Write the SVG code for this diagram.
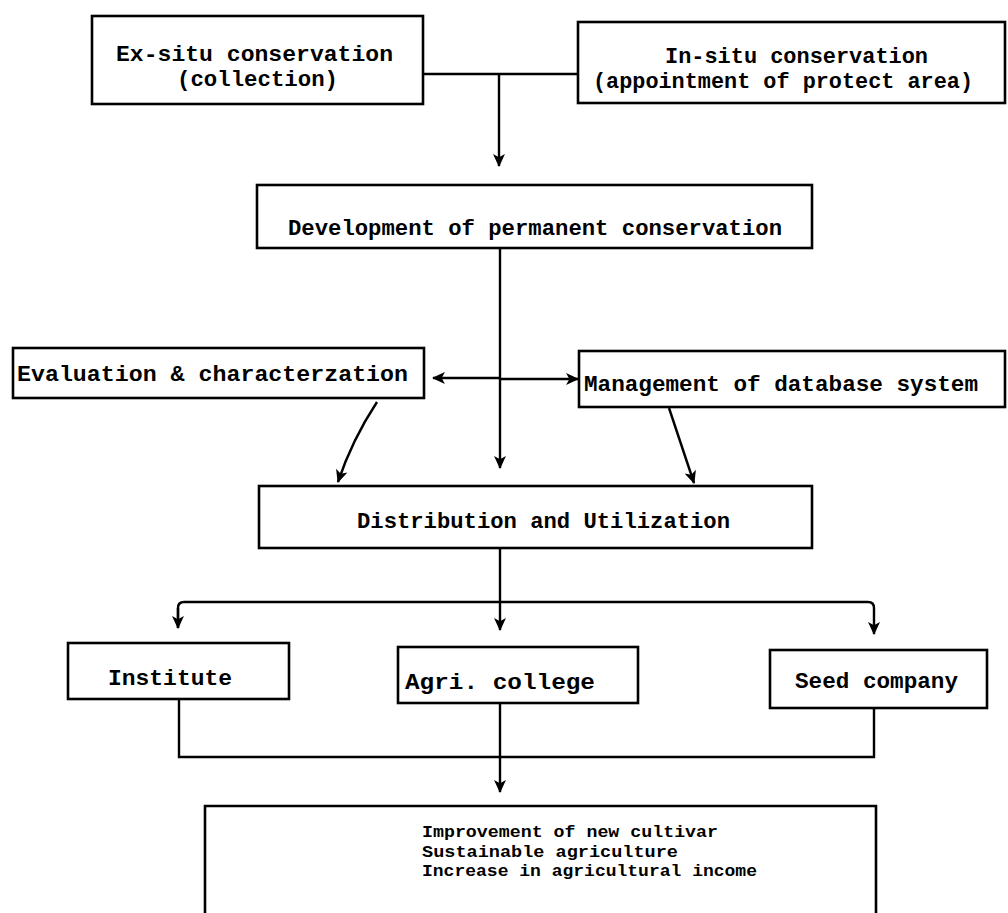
<svg xmlns="http://www.w3.org/2000/svg" width="1008" height="913" viewBox="0 0 1008 913">
<style>
.box{fill:#fff;stroke:#000;stroke-width:2.6}
.ln{fill:none;stroke:#000;stroke-width:2.4}
.t{font-family:"Liberation Mono","Courier New",monospace;font-weight:bold;font-size:22px;fill:#000}
.s{font-family:"Liberation Mono","Courier New",monospace;font-weight:bold;font-size:17px;fill:#000}
</style>
<defs>
<marker id="ah" markerUnits="userSpaceOnUse" markerWidth="13" markerHeight="13" viewBox="0 0 12 12" refX="11" refY="6" orient="auto">
<path d="M0,0.5 L12,6 L0,11.5 L3,6 Z" fill="#000"/>
</marker>
</defs>
<rect width="1008" height="913" fill="#fff"/>
<g id="connectors">
<path class="ln" d="M423,74 H578"/>
<path class="ln" d="M499,74 V166" marker-end="url(#ah)"/>
<path class="ln" d="M500,248 V468" marker-end="url(#ah)"/>
<path class="ln" d="M500,378 H433" marker-end="url(#ah)"/>
<path class="ln" d="M500,379 H578" marker-end="url(#ah)"/>
<path class="ln" d="M377,402 Q352,440 338,482" marker-end="url(#ah)"/>
<path class="ln" d="M669,408 L694,483" marker-end="url(#ah)"/>
<path class="ln" d="M500,548 V602"/>
<path class="ln" d="M178,628 V608 Q178,602 184,602 H868 Q874,602 874,608 V634" marker-end="url(#ah)"/>
<path class="ln" d="M178,608 V628" marker-end="url(#ah)"/>
<path class="ln" d="M500,602 V630" marker-end="url(#ah)"/>
<path class="ln" d="M179,699 V757 H874 V708"/>
<path class="ln" d="M500,703 V792" marker-end="url(#ah)"/>
</g>
<g id="n-exsitu">
<rect class="box" x="92" y="16" width="331" height="88"/>
<text class="t" x="116" y="61" textLength="277" lengthAdjust="spacingAndGlyphs">Ex-situ conservation</text>
<text class="t" x="177" y="86" textLength="161" lengthAdjust="spacingAndGlyphs">(collection)</text>
</g>
<g id="n-insitu">
<rect class="box" x="578" y="22" width="427" height="81"/>
<text class="t" x="665" y="63" textLength="263" lengthAdjust="spacingAndGlyphs">In-situ conservation</text>
<text class="t" x="593" y="88" textLength="380" lengthAdjust="spacingAndGlyphs">(appointment of protect area)</text>
</g>
<g id="n-development">
<rect class="box" x="257" y="185" width="555" height="63"/>
<text class="t" x="288" y="235" textLength="494" lengthAdjust="spacingAndGlyphs">Development of permanent conservation</text>
</g>
<g id="n-evaluation">
<rect class="box" x="13" y="348" width="411" height="50"/>
<text class="t" x="17" y="381" textLength="391" lengthAdjust="spacingAndGlyphs">Evaluation &amp; characterzation</text>
</g>
<g id="n-management">
<rect class="box" x="579" y="351" width="426" height="56"/>
<text class="t" x="584" y="391" textLength="394" lengthAdjust="spacingAndGlyphs">Management of database system</text>
</g>
<g id="n-distribution">
<rect class="box" x="259" y="486" width="553" height="62"/>
<text class="t" x="357" y="528" textLength="373" lengthAdjust="spacingAndGlyphs">Distribution and Utilization</text>
</g>
<g id="n-institute">
<rect class="box" x="68" y="643" width="221" height="56"/>
<text class="t" x="108" y="685" textLength="124" lengthAdjust="spacingAndGlyphs">Institute</text>
</g>
<g id="n-agri">
<rect class="box" x="398" y="647" width="240" height="56"/>
<text class="t" x="405" y="689" textLength="190" lengthAdjust="spacingAndGlyphs">Agri. college</text>
</g>
<g id="n-seed">
<rect class="box" x="770" y="650" width="217" height="58"/>
<text class="t" x="795" y="688" textLength="163" lengthAdjust="spacingAndGlyphs">Seed company</text>
</g>
<g id="n-result">
<path class="box" d="M205,915 V806 H876 V915"/>
<text class="s" x="422" y="837" textLength="296" lengthAdjust="spacingAndGlyphs">Improvement of new cultivar</text>
<text class="s" x="422" y="856.5" textLength="256" lengthAdjust="spacingAndGlyphs">Sustainable agriculture</text>
<text class="s" x="422" y="876" textLength="335" lengthAdjust="spacingAndGlyphs">Increase in agricultural income</text>
</g>
</svg>
